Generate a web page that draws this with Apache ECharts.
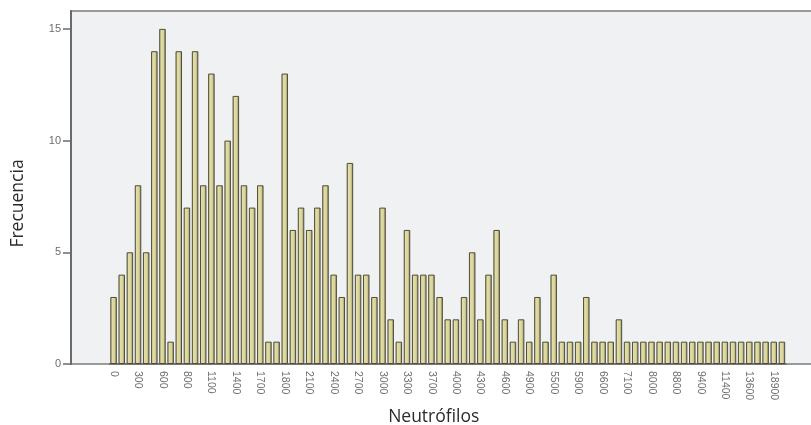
<!DOCTYPE html>
<html>
<head>
<meta charset="utf-8">
<title>Neutrófilos</title>
<script src="https://cdn.jsdelivr.net/npm/echarts@6/dist/echarts.min.js"></script>
<style>
  html, body { margin: 0; padding: 0; background: #ffffff; }
  #chart { width: 811px; height: 425px; }
</style>
</head>
<body>
<div id="chart"></div>
<script>
// Distinct neutrophil counts (cells/µL), one bar per observed value
const categories = [
  '0', '100', '200', '300', '400', '500', '600', '700', '750', '800',
  '900', '1000', '1100', '1200', '1300', '1400', '1500', '1600', '1700', '1720',
  '1750', '1800', '1900', '2000', '2100', '2200', '2300', '2400', '2500', '2600',
  '2700', '2800', '2900', '3000', '3100', '3200', '3300', '3400', '3600', '3700',
  '3800', '3900', '4000', '4100', '4200', '4300', '4400', '4500', '4600', '4700',
  '4800', '4900', '5000', '5200', '5500', '5600', '5700', '5900', '6000', '6200',
  '6600', '6800', '6900', '7100', '7300', '7600', '8000', '8200', '8500', '8800',
  '9000', '9200', '9400', '9900', '10700', '11400', '12000', '12600', '13600', '14200',
  '16300', '18900', '21500'
];

// Number of patients for each value
const frecuencia = [
  3, 4, 5, 8, 5, 14, 15, 1, 14, 7,
  14, 8, 13, 8, 10, 12, 8, 7, 8, 1,
  1, 13, 6, 7, 6, 7, 8, 4, 3, 9,
  4, 4, 3, 7, 2, 1, 6, 4, 4, 4,
  3, 2, 2, 3, 5, 2, 4, 6, 2, 1,
  2, 1, 3, 1, 4, 1, 1, 1, 3, 1,
  1, 1, 2, 1, 1, 1, 1, 1, 1, 1,
  1, 1, 1, 1, 1, 1, 1, 1, 1, 1,
  1, 1, 1
];

// Y axis ticks
const yTicks = [0, 5, 10, 15];

const chart = echarts.init(document.getElementById('chart'), null, { renderer: 'canvas' });

const labelFont = '"Liberation Sans", "DejaVu Sans", sans-serif';
const titleFont = '"Open Sans", "Noto Sans", sans-serif';

chart.setOption({
  animation: false,
  backgroundColor: '#ffffff',
  grid: {
    left: 109.5, right: 25, top: 11, bottom: 61,
    outerBoundsMode: 'none',
    containLabel: false
  },
  graphic: [
    {
      // plotting panel behind the bars
      type: 'rect',
      z: -10,
      silent: true,
      shape: { x: 71, y: 11, width: 760, height: 353 },
      style: { fill: '#eff1f3', stroke: '#9a9a9a', lineWidth: 2 }
    }
  ],
  xAxis: {
    type: 'category',
    data: categories,
    boundaryGap: true,
    name: 'Neutrófilos',
    nameLocation: 'middle',
    nameGap: 44,
    nameTextStyle: {
      fontFamily: titleFont,
      fontSize: 17.5,
      color: '#2b2b2b',
      padding: [0, 28, 0, 0]
    },
    axisLine: { lineStyle: { color: '#6a6a6a', width: 1.5 } },
    axisTick: {
      interval: 2,
      alignWithLabel: true,
      length: 5,
      lineStyle: { color: '#3a3a3a', width: 1.2 }
    },
    axisLabel: {
      interval: 2,
      rotate: -90,
      margin: 7,
      fontFamily: labelFont,
      fontSize: 10.5,
      color: '#6d6d6d'
    },
    splitLine: { show: false }
  },
  yAxis: {
    type: 'value',
    min: 0,
    max: 15.8,
    offset: 38.5,
    name: 'Frecuencia',
    nameLocation: 'middle',
    nameGap: 44,
    nameTextStyle: {
      fontFamily: titleFont,
      fontSize: 17.5,
      color: '#2b2b2b',
      padding: [0, 32, 0, 0]
    },
    axisLine: { show: true, lineStyle: { color: '#6a6a6a', width: 2 } },
    axisTick: {
      show: true,
      customValues: yTicks,
      length: 8,
      lineStyle: { color: '#6a6a6a', width: 1.5 }
    },
    axisLabel: {
      customValues: yTicks,
      margin: 10,
      fontFamily: labelFont,
      fontSize: 11,
      color: '#6d6d6d'
    },
    splitLine: { show: false }
  },
  series: [
    {
      type: 'bar',
      data: frecuencia,
      barWidth: 6.5,
      itemStyle: {
        color: new echarts.graphic.LinearGradient(0, 0, 1, 0, [
          { offset: 0, color: '#9d9969' },
          { offset: 0.25, color: '#e2dea6' },
          { offset: 0.65, color: '#d8d398' },
          { offset: 1, color: '#7c7855' }
        ]),
        borderColor: '#4f4d3c',
        borderWidth: 1
      }
    }
  ]
});
</script>
</body>
</html>
